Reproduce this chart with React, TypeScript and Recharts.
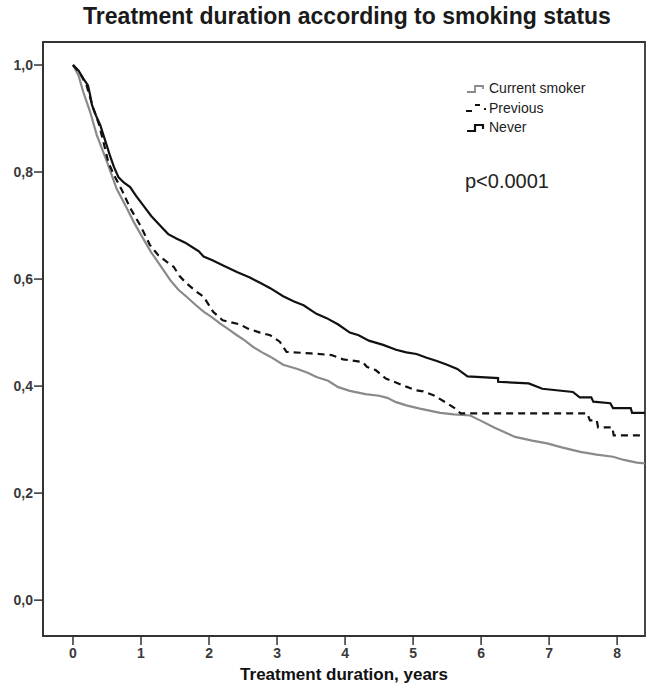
import React from 'react';
import { LineChart, Line, XAxis, YAxis, ReferenceArea } from 'recharts';

const neverT = [0, 0.08, 0.15, 0.22, 0.25, 0.28, 0.34, 0.4, 0.47, 0.54, 0.6, 0.67, 0.75, 0.84, 0.93, 1.03, 1.15, 1.28, 1.4, 1.52, 1.65, 1.75, 1.85, 1.92, 2.05, 2.2, 2.41, 2.6, 2.75, 2.9, 3.09, 3.25, 3.39, 3.58, 3.73, 3.9, 4.07, 4.2, 4.35, 4.56, 4.75, 4.9, 5.05, 5.2, 5.35, 5.5, 5.65, 5.8, 6.25, 6.25, 6.7, 6.9, 7.35, 7.45, 7.62, 7.65, 7.9, 7.94, 8.2, 8.22, 8.45];
const neverS = [1.0, 0.99, 0.975, 0.962, 0.945, 0.925, 0.905, 0.888, 0.86, 0.832, 0.81, 0.79, 0.78, 0.772, 0.755, 0.738, 0.718, 0.7, 0.684, 0.676, 0.668, 0.66, 0.652, 0.642, 0.635, 0.626, 0.613, 0.603, 0.593, 0.583, 0.568, 0.558, 0.551, 0.535, 0.527, 0.515, 0.5, 0.495, 0.485, 0.477, 0.468, 0.463, 0.46, 0.453, 0.447, 0.44, 0.432, 0.418, 0.415, 0.408, 0.405, 0.395, 0.389, 0.379, 0.379, 0.371, 0.368, 0.359, 0.359, 0.35, 0.35];

const previousT = [0, 0.1, 0.2, 0.25, 0.3, 0.38, 0.45, 0.52, 0.6, 0.72, 0.84, 0.99, 1.13, 1.25, 1.38, 1.48, 1.57, 1.67, 1.8, 1.92, 2.06, 2.2, 2.46, 2.56, 2.75, 2.9, 3.04, 3.14, 3.5, 3.8, 3.97, 4.26, 4.32, 4.45, 4.6, 4.9, 5.05, 5.15, 5.3, 5.5, 5.62, 5.7, 7.56, 7.6, 7.7, 7.72, 7.93, 7.95, 8.45];
const previousS = [1.0, 0.985, 0.962, 0.94, 0.918, 0.89, 0.855, 0.818, 0.795, 0.766, 0.733, 0.7, 0.664, 0.645, 0.632, 0.623, 0.605, 0.592, 0.578, 0.567, 0.539, 0.523, 0.515, 0.508, 0.5, 0.495, 0.483, 0.464, 0.461, 0.458, 0.45, 0.445, 0.436, 0.43, 0.414, 0.399, 0.392, 0.39, 0.383, 0.368, 0.358, 0.349, 0.349, 0.336, 0.336, 0.323, 0.323, 0.308, 0.308];

const currentT = [0, 0.08, 0.15, 0.25, 0.35, 0.5, 0.64, 0.79, 0.9, 1.03, 1.15, 1.28, 1.43, 1.55, 1.67, 1.8, 1.92, 2.05, 2.16, 2.3, 2.41, 2.53, 2.65, 2.78, 2.9, 3.09, 3.3, 3.45, 3.58, 3.75, 3.9, 4.07, 4.3, 4.5, 4.62, 4.75, 4.9, 5.1, 5.4, 5.6, 5.84, 6.0, 6.2, 6.38, 6.5, 6.75, 6.97, 7.2, 7.46, 7.7, 7.94, 8.1, 8.29, 8.45];
const currentS = [1.0, 0.981, 0.95, 0.913, 0.869, 0.819, 0.769, 0.733, 0.705, 0.676, 0.65, 0.626, 0.598, 0.58, 0.567, 0.552, 0.539, 0.528, 0.517, 0.505, 0.495, 0.485, 0.473, 0.463, 0.455, 0.44, 0.432, 0.425, 0.417, 0.41, 0.398, 0.391, 0.385, 0.382, 0.378, 0.37, 0.364, 0.358, 0.35, 0.347, 0.345, 0.335, 0.322, 0.312, 0.305, 0.298, 0.293, 0.285, 0.277, 0.272, 0.268, 0.262, 0.257, 0.255];

const xTicks = [0, 1, 2, 3, 4, 5, 6, 7, 8];
const yTicks = [0, 0.2, 0.4, 0.6, 0.8, 1.0];
const yTickLabels = ['0,0', '0,2', '0,4', '0,6', '0,8', '1,0'];

const legendLabels = ['Current smoker', 'Previous', 'Never'];

const toPoints = (t: number[], s: number[]) => t.map((v, i) => ({ t: v, s: s[i] }));
const currentData = toPoints(currentT, currentS);
const previousData = toPoints(previousT, previousS);
const neverData = toPoints(neverT, neverS);

const X_DOMAIN: [number, number] = [-0.441, 8.41];
const Y_DOMAIN: [number, number] = [-0.067, 1.043];

const FONT = '"Liberation Sans", Arial, sans-serif';

const LegendIcon = ({ kind }: { kind: number }) => {
  if (kind === 0) {
    return (
      <svg width="22" height="12">
        <path d="M2,9 H10 V3 H18 V6" fill="none" stroke="#8a8a8a" strokeWidth="1.8" />
      </svg>
    );
  }
  if (kind === 1) {
    return (
      <svg width="22" height="12">
        <path d="M1,9 H7" stroke="#111" strokeWidth="2" />
        <path d="M10,3 H15" stroke="#111" strokeWidth="2" />
        <path d="M19,7 H21" stroke="#111" strokeWidth="2" />
      </svg>
    );
  }
  return (
    <svg width="22" height="12">
      <path d="M2,9 H10 V3 H18 V7" fill="none" stroke="#111" strokeWidth="2.2" />
    </svg>
  );
};

const tickStyle = { fill: '#3a3a3a', fontSize: 14, fontFamily: FONT, fontWeight: 'bold' as const };

export default function App() {
  return (
    <div style={{ position: 'absolute', left: 0, top: 0, width: 648, height: 684, background: '#fff', fontFamily: FONT }}>
      <div style={{ position: 'absolute', left: 0, width: 648, top: 3, textAlign: 'center', paddingLeft: 46, boxSizing: 'border-box', fontSize: 23, fontWeight: 'bold', color: '#1a1a1a' }}>
        Treatment duration according to smoking status
      </div>
      <LineChart width={648} height={684} margin={{ top: 42, right: 3, left: 0, bottom: 0 }}>
        <XAxis
          dataKey="t"
          type="number"
          domain={X_DOMAIN}
          ticks={xTicks}
          allowDataOverflow
          height={48}
          tickSize={9}
          tickLine={{ stroke: '#333', strokeWidth: 1.5 }}
          axisLine={{ stroke: '#333', strokeWidth: 1.8 }}
          tick={tickStyle}
          tickMargin={3}
          label={{ value: 'Treatment duration, years', position: 'insideBottom', offset: 4, style: { fill: '#111', fontSize: 17, fontWeight: 'bold', fontFamily: FONT } }}
        />
        <YAxis
          type="number"
          domain={Y_DOMAIN}
          ticks={yTicks}
          allowDataOverflow
          width={43}
          tickSize={9}
          tickLine={{ stroke: '#333', strokeWidth: 1.5 }}
          axisLine={{ stroke: '#333', strokeWidth: 1.8 }}
          tick={tickStyle}
          tickMargin={1}
          tickFormatter={(v: number) => yTickLabels[yTicks.findIndex((y) => Math.abs(y - v) < 1e-6)] ?? String(v)}
        />
        <ReferenceArea
          x1={X_DOMAIN[0]}
          x2={X_DOMAIN[1]}
          y1={Y_DOMAIN[0]}
          y2={Y_DOMAIN[1]}
          fill="none"
          fillOpacity={0}
          stroke="#333"
          strokeWidth={1.8}
          ifOverflow="visible"
        />
        <Line data={currentData} dataKey="s" type="linear" stroke="#8a8a8a" strokeWidth={2.2} dot={false} isAnimationActive={false} />
        <Line data={previousData} dataKey="s" type="linear" stroke="#111" strokeWidth={2.2} strokeDasharray="7 5" dot={false} isAnimationActive={false} />
        <Line data={neverData} dataKey="s" type="linear" stroke="#111" strokeWidth={2.2} dot={false} isAnimationActive={false} />
      </LineChart>
      <div style={{ position: 'absolute', left: 465, top: 79, fontSize: 14, color: '#222', lineHeight: '19.5px' }}>
        {legendLabels.map((lab, i) => (
          <div key={lab} style={{ display: 'flex', alignItems: 'center', height: 19.5 }}>
            <LegendIcon kind={i} />
            <span style={{ marginLeft: 2 }}>{lab}</span>
          </div>
        ))}
      </div>
      <div style={{ position: 'absolute', left: 465, top: 170, fontSize: 20, color: '#222' }}>p&lt;0.0001</div>
    </div>
  );
}
